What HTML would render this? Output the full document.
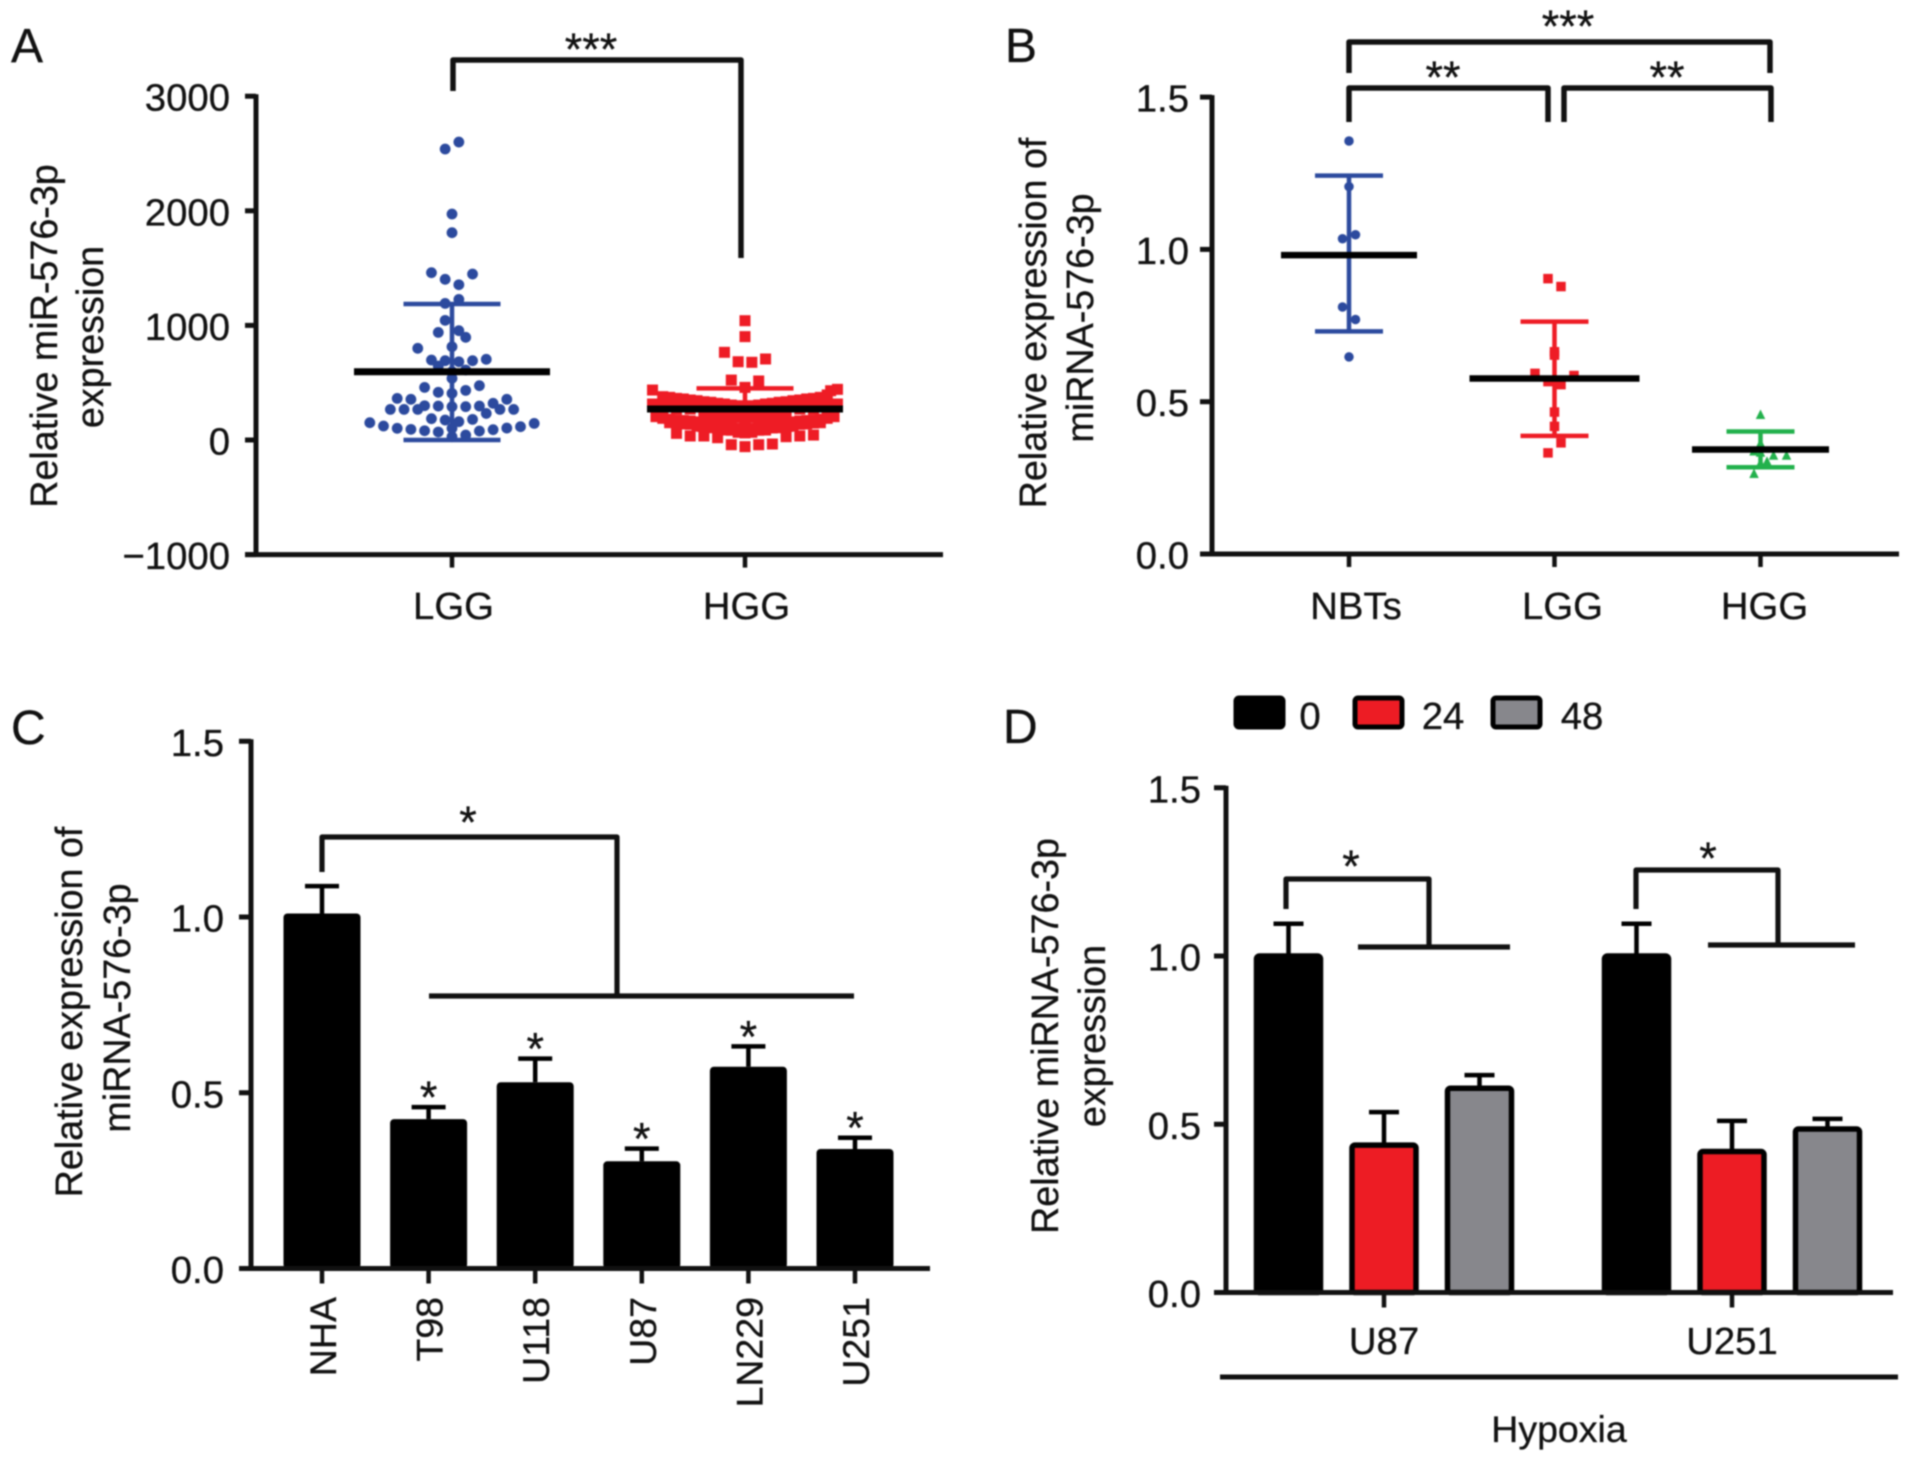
<!DOCTYPE html>
<html>
<head>
<meta charset="utf-8">
<title>miR-576-3p expression panels</title>
<style>
html,body{margin:0;padding:0;background:#fff;}
svg{display:block;filter:blur(0.7px);}
text{font-family:"Liberation Sans",Arial,sans-serif;fill:#111;stroke:#111;stroke-width:0.3px;}
.tl{font-size:37.7px;}
.tk{font-size:38.3px;}
.tkr{font-size:37.5px;}
.pl{font-size:48px;}
.st{font-size:45px;}
.br{fill:none;stroke:#111;stroke-width:5.5;stroke-linejoin:round;}
.br4{fill:none;stroke:#111;stroke-width:5.2;stroke-linejoin:round;}
</style>
</head>
<body>
<svg id="figure" width="1913" height="1462" viewBox="0 0 1913 1462" xmlns="http://www.w3.org/2000/svg">
  <rect width="1913" height="1462" fill="#fff"/>

  <!-- Panel A -->
  <g id="panel-a">
    <text class="pl" x="11" y="62">A</text>
    <text class="tl" text-anchor="middle" transform="translate(57,336) rotate(-90)">Relative miR-576-3p</text>
    <text class="tl" text-anchor="middle" transform="translate(103,337) rotate(-90)">expression</text>
    <path class="br" d="M453 91V60H741V258"/>
    <text class="st" text-anchor="middle" x="591" y="65">***</text>
  </g>

  <!-- Panel B -->
  <g id="panel-b">
    <text class="pl" x="1005" y="62">B</text>
    <text class="tl" text-anchor="middle" transform="translate(1046,323) rotate(-90)">Relative expression of</text>
    <text class="tl" text-anchor="middle" transform="translate(1093,318) rotate(-90)">miRNA-576-3p</text>
    <path class="br" d="M1349 73V42H1770V73"/>
    <path class="br" d="M1349 122V88H1548V122"/>
    <path class="br" d="M1564 122V88H1771V122"/>
    <text class="st" text-anchor="middle" x="1568" y="42">***</text>
    <text class="st" text-anchor="middle" x="1443" y="93">**</text>
    <text class="st" text-anchor="middle" x="1667" y="93">**</text>
  </g>

  <!-- Panel C -->
  <g id="panel-c">
    <text class="pl" x="11" y="744">C</text>
    <text class="tl" text-anchor="middle" transform="translate(82,1012) rotate(-90)">Relative expression of</text>
    <text class="tl" text-anchor="middle" transform="translate(130,1008) rotate(-90)">miRNA-576-3p</text>
    <path class="br4" d="M322 872V837H617V995"/>
    <path class="br4" d="M429 996H854"/>
    <text class="st" text-anchor="middle" x="468" y="838">*</text>
  </g>

  <!-- Panel D -->
  <g id="panel-d">
    <text class="pl" x="1003" y="743">D</text>
    <text class="tl" text-anchor="middle" transform="translate(1058,1036) rotate(-90)">Relative miRNA-576-3p</text>
    <text class="tl" text-anchor="middle" transform="translate(1105,1036) rotate(-90)">expression</text>
    <path class="br4" d="M1286 909V879H1429V947"/>
    <path class="br4" d="M1358 947H1510"/>
    <text class="st" text-anchor="middle" x="1351" y="882">*</text>
    <path class="br4" d="M1636 909V870H1778V945"/>
    <path class="br4" d="M1708 945H1855"/>
    <text class="st" text-anchor="middle" x="1708" y="874">*</text>
    <path d="M1220 1377H1898" fill="none" stroke="#111" stroke-width="5"/>
    <text class="tkr" text-anchor="middle" x="1559" y="1442">Hypoxia</text>
    <g>
      <rect x="1236" y="698" width="47" height="29" rx="3" fill="#000" stroke="#000" stroke-width="5"/>
      <text class="tk" text-anchor="middle" x="1310" y="729">0</text>
      <rect x="1355" y="698" width="47" height="29" rx="3" fill="#ed1c24" stroke="#000" stroke-width="5"/>
      <text class="tk" text-anchor="middle" x="1443" y="729">24</text>
      <rect x="1493" y="698" width="47" height="29" rx="3" fill="#87878c" stroke="#000" stroke-width="5"/>
      <text class="tk" text-anchor="middle" x="1582" y="729">48</text>
    </g>
  </g>
</svg>

<script>
// ---------- Panel A data ----------
const aCategories = ['LGG', 'HGG'];
const aTicks = [3000, 2000, 1000, 0, -1000];
const aLggValues = [2539,2600,1972,1809,1460,1448,1402,1355,1227,1192,1044,939,954,896,814,800,698,692,683,692,704,646,611,596,538,459,474,416,433,407,363,355,355,320,299,296,291,291,296,267,267,267,267,267,232,186,174,160,180,151,122,102,93,81,70,102,78,90,104,116,145,43,29];
const aLggSwarm = [-0.5,0.5,0,0,-1.5,1.5,-0.5,0.5,0.5,-0.5,-0.5,-1,0.5,1,0,-2.5,-1.5,-0.5,0.5,1.5,2.5,-1,1,0,0,-2,2,-1,1,0,-4,-3,4,3,-2,-1,0,1,2,-4.5,-3.5,-2.5,3.5,4.5,2.5,-1.5,-0.5,0.5,1.5,-6,-5,-4,-3,-2,-1,0,2,3,4,5,6,1,0];
const aLggStats = {mean: 596, upper: 1187, lower: 0};
const aHggValues = [1041,902,765,683,678,707,523,515,459,
  436,442,430,314,314,
  378,363,349,334,320,305,291,305,320,334,349,363,393,
  372,358,343,329,314,299,299,314,329,343,358,372,
  348,333,319,304,290,275,275,290,304,319,333,348,
  349,334,320,305,291,276,276,291,305,320,334,349,
  270,270,270,270,270,270,270,270,270,270,270,270,270,
  238,227,204,189,204,227,238,
  232,215,197,197,215,232,
  204,204,
  189,174,166,151,140,122,81,122,140,151,166,174,189,
  181,170,158,145,131,100,100,131,145,158,170,181,
  151,140,122,107,87,67,67,87,107,122,140,151,
  148,137,120,105,85,62,85,105,120,137,148,
  58,35,35,20,-41,-58,-41,-35,29,35,43];
const aHggSwarm = [0,0,-1.5,-0.5,0.5,1.5,-1,1,0,
  -6.75,6.75,6.25,-6.75,6.75,
  -6,-5,-4,-3,-2,-1,0,1,2,3,4,5,6,
  -5.5,-4.5,-3.5,-2.5,-1.5,-0.5,0.5,1.5,2.5,3.5,4.5,5.5,
  -6,-5,-4,-3,-2,-1,1,2,3,4,5,6,
  -5.5,-4.5,-3.5,-2.5,-1.5,-0.5,0.5,1.5,2.5,3.5,4.5,5.5,
  -6,-5,-4,-3,-2,-1,0,1,2,3,4,5,6,
  -3,-2,-1,0,1,2,3,
  -2.5,-1.5,-0.5,0.5,1.5,2.5,
  -6.5,6.5,
  -6,-5,-4,-3,-2,-1,0,1,2,3,4,5,6,
  -5.5,-4.5,-3.5,-2.5,-1.5,-0.5,0.5,1.5,2.5,3.5,4.5,5.5,
  -5.5,-4.5,-3.5,-2.5,-1.5,-0.5,0.5,1.5,2.5,3.5,4.5,5.5,
  -5,-4,-3,-2,-1,0,1,2,3,4,5,
  -5,-4,-3,-2,-1,0,1,2,3,4,5];
const aHggStats = {mean: 270, upper: 450, lower: 90};

// ---------- Panel B data ----------
const bCategories = ['NBTs', 'LGG', 'HGG'];
const bTicks = ['1.5', '1.0', '0.5', '0.0'];
const bNbtValues = [1.356,1.206,1.035,1.048,0.811,0.77,0.647];
const bNbtSwarm = [0,0,-0.5,0.5,-0.5,0.5,0];
const bNbtStats = {mean: 0.981, upper: 1.242, lower: 0.731};
const bLggValues = [0.904,0.878,0.664,0.653,0.593,0.586,0.566,0.556,0.466,0.419,0.365,0.332];
const bLggSwarm = [-0.5,0.5,0,0,-1.5,1.5,-0.5,0.5,0,0,0.5,-0.5];
const bLggStats = {mean: 0.576, upper: 0.763, lower: 0.388};
const bHggValues = [0.459,0.365,0.339,0.335,0.325,0.325,0.3,0.305,0.265];
const bHggSwarm = [0,0,-0.5,0,1,2,0,0.5,-0.5];
const bHggStats = {mean: 0.343, upper: 0.402, lower: 0.285};

// ---------- Panel C data ----------
const cCategories = ['NHA', 'T98', 'U118', 'U87', 'LN229', 'U251'];
const cTicks = ['1.5', '1.0', '0.5', '0.0'];
const cValues = [1.01, 0.425, 0.53, 0.305, 0.574, 0.34];
const cErrors = [0.078, 0.034, 0.067, 0.036, 0.058, 0.032];
const cStars = ['', '*', '*', '*', '*', '*'];

// ---------- Panel D data ----------
const dGroups = ['U87', 'U251'];
const dSeries = ['0', '24', '48'];
const dTicks = ['1.5', '1.0', '0.5', '0.0'];
const dValues0 = [1.0, 1.0];
const dValues24 = [0.438, 0.419];
const dValues48 = [0.607, 0.486];
const dErrors0 = [0.096, 0.096];
const dErrors24 = [0.098, 0.091];
const dErrors48 = [0.039, 0.03];

// ---------- helpers ----------
const SVGNS = 'http://www.w3.org/2000/svg';
function mk(parent, tag, attrs, name, txt) {
  const el = document.createElementNS(SVGNS, tag);
  for (const k in attrs) el.setAttribute(k, attrs[k]);
  
  
  if (txt !== undefined) el.textContent = txt;
  parent.appendChild(el);
  return el;
}
function linear(d0, d1, r0, r1) {
  return function (v) { return r0 + (v - d0) * (r1 - r0) / (d1 - d0); };
}
function seg(parent, x1, y1, x2, y2, color, w, name) {
  return mk(parent, 'line', {x1: x1, y1: y1, x2: x2, y2: y2, stroke: color, 'stroke-width': w}, name);
}
function yAxis(parent, prefix, axisX, y, top, bottom, ticks, tickLeft, labelX, dy) {
  seg(parent, axisX, y(top) - 2, axisX, y(bottom) + 2, '#111', 5, prefix + '-y-axis');
  ticks.forEach(function (t) {
    const v = parseFloat(t);
    seg(parent, tickLeft, y(v), axisX, y(v), '#111', 5, prefix + '-y-tick');
    const label = (typeof t === 'number' && t < 0) ? '\u2212' + Math.abs(t) : String(t);
    mk(parent, 'text', {class: 'tk', x: labelX, y: y(v) + dy, 'text-anchor': 'end'}, prefix + '-y-tick-label', label);
  });
}
function swarm(parent, prefix, cx, unit, y, values, slots, shape, color, size) {
  values.forEach(function (v, i) {
    const px = cx + slots[i] * unit, py = y(v);
    if (shape === 'circle') {
      mk(parent, 'circle', {cx: px, cy: py, r: size / 2, fill: color}, prefix + '-point');
    } else if (shape === 'square') {
      mk(parent, 'rect', {x: px - size / 2, y: py - size / 2, width: size, height: size, fill: color}, prefix + '-point');
    } else {
      const h = size / 2;
      mk(parent, 'polygon', {points: px + ',' + (py - h) + ' ' + (px + h) + ',' + (py + h) + ' ' + (px - h) + ',' + (py + h), fill: color}, prefix + '-point');
    }
  });
}
function stats(parent, prefix, cx, y, s, color, capW, meanW, meanStroke) {
  seg(parent, cx, y(s.upper), cx, y(s.lower), color, 4.5, prefix + '-error-stem');
  seg(parent, cx - capW / 2, y(s.upper), cx + capW / 2, y(s.upper), color, 4.5, prefix + '-error-cap-upper');
  seg(parent, cx - capW / 2, y(s.lower), cx + capW / 2, y(s.lower), color, 4.5, prefix + '-error-cap-lower');
  seg(parent, cx - meanW / 2, y(s.mean), cx + meanW / 2, y(s.mean), '#000', meanStroke, prefix + '-mean-line');
}

// ---------- Panel A ----------
(function () {
  const g = document.getElementById('panel-a');
  const y = linear(0, 1000, 440, 325.4);
  const xCenters = [452, 745];
  yAxis(g, 'panel-a', 256, y, 3000, -1000, aTicks, 245, 230, 14.5);
  seg(g, 245, y(-1000), 943, y(-1000), '#111', 5, 'panel-a-x-axis');
  aCategories.forEach(function (c, i) {
    seg(g, xCenters[i], y(-1000), xCenters[i], y(-1000) + 13, '#111', 4.5, 'panel-a-x-tick');
    mk(g, 'text', {class: 'tk', x: xCenters[i] + 1.5, y: 619, 'text-anchor': 'middle'}, 'panel-a-x-tick-label', c);
  });
  swarm(g, 'lgg', xCenters[0], 13.7, y, aLggValues, aLggSwarm, 'circle', '#2c4a9e', 10.8);
  swarm(g, 'hgg', xCenters[1], 13.7, y, aHggValues, aHggSwarm, 'square', '#ee1c25', 11);
  stats(g, 'lgg', xCenters[0], y, aLggStats, '#2c4a9e', 97, 196, 7);
  stats(g, 'hgg', xCenters[1], y, aHggStats, '#ee1c25', 97, 196, 7);
})();

// ---------- Panel B ----------
(function () {
  const g = document.getElementById('panel-b');
  const y = linear(0, 1, 554, 249.4);
  const xCenters = [1349, 1554.5, 1760.5];
  yAxis(g, 'panel-b', 1212, y, 1.5, 0, bTicks, 1200, 1189, 14.5);
  seg(g, 1200, y(0), 1899, y(0), '#111', 5, 'panel-b-x-axis');
  const labelShift = [7, 8, 4];
  bCategories.forEach(function (c, i) {
    seg(g, xCenters[i], y(0), xCenters[i], y(0) + 13, '#111', 4.5, 'panel-b-x-tick');
    mk(g, 'text', {class: 'tk', x: xCenters[i] + labelShift[i], y: 619, 'text-anchor': 'middle'}, 'panel-b-x-tick-label', c);
  });
  swarm(g, 'nbts', xCenters[0], 13, y, bNbtValues, bNbtSwarm, 'circle', '#2c4a9e', 9.5);
  swarm(g, 'b-lgg', xCenters[1], 13, y, bLggValues, bLggSwarm, 'square', '#ee1c25', 9.5);
  swarm(g, 'b-hgg', xCenters[2], 13, y, bHggValues, bHggSwarm, 'triangle', '#22b14c', 9.5);
  stats(g, 'nbts', xCenters[0], y, bNbtStats, '#2c4a9e', 68, 136, 6.5);
  stats(g, 'b-lgg', xCenters[1], y, bLggStats, '#ee1c25', 68, 170, 6.5);
  stats(g, 'b-hgg', xCenters[2], y, bHggStats, '#22b14c', 68, 137, 6.5);
})();

// ---------- Panel C ----------
(function () {
  const g = document.getElementById('panel-c');
  const y = linear(0, 1, 1268.5, 917);
  const x0 = 322, step = 106.6, barW = 77;
  yAxis(g, 'panel-c', 251, y, 1.5, 0, cTicks, 239, 224, 14.5);
  cCategories.forEach(function (c, i) {
    const cx = x0 + i * step;
    const top = y(cValues[i] + cErrors[i]);
    seg(g, cx, top, cx, y(cValues[i]), '#000', 4.5, 'bar-error-stem-' + c);
    seg(g, cx - 17, top, cx + 17, top, '#000', 4.5, 'bar-error-cap-' + c);
    mk(g, 'rect', {x: cx - barW / 2, y: y(cValues[i]), width: barW, height: y(0) - y(cValues[i]), rx: 4, fill: '#000'}, 'bar-' + c);
    seg(g, cx, y(0), cx, y(0) + 15, '#111', 4.5, 'panel-c-x-tick');
    mk(g, 'text', {class: 'tkr', 'text-anchor': 'end', transform: 'translate(' + (cx + 14) + ',1297) rotate(-90)'}, 'panel-c-x-tick-label', c);
    if (cStars[i]) {
      mk(g, 'text', {class: 'st', x: cx, y: top + 6, 'text-anchor': 'middle'}, 'bar-star-' + c, cStars[i]);
    }
  });
  seg(g, 239, y(0), 930, y(0), '#111', 5, 'panel-c-x-axis');
})();

// ---------- Panel D ----------
(function () {
  const g = document.getElementById('panel-d');
  const y = linear(0, 1, 1292.5, 956);
  const groupCenters = [1384, 1732];
  const offset = 95.5, barW = 64;
  const seriesValues = [dValues0, dValues24, dValues48];
  const seriesErrors = [dErrors0, dErrors24, dErrors48];
  const seriesFill = ['#000', '#ed1c24', '#87878c'];
  yAxis(g, 'panel-d', 1226, y, 1.5, 0, dTicks, 1214, 1201, 14.5);
  dGroups.forEach(function (grp, gi) {
    dSeries.forEach(function (s, si) {
      const cx = groupCenters[gi] + (si - 1) * offset;
      const v = seriesValues[si][gi];
      const top = y(v + seriesErrors[si][gi]);
      seg(g, cx, top, cx, y(v), '#000', 4.5, 'bar-error-stem-' + grp + '-' + s);
      seg(g, cx - 15, top, cx + 15, top, '#000', 4.5, 'bar-error-cap-' + grp + '-' + s);
      mk(g, 'rect', {x: cx - barW / 2, y: y(v), width: barW, height: y(0) - y(v), rx: 3, fill: seriesFill[si], stroke: '#000', 'stroke-width': 5.5}, 'bar-' + grp + '-' + s);
    });
    seg(g, groupCenters[gi], y(0), groupCenters[gi], y(0) + 15, '#111', 4.5, 'panel-d-x-tick');
    mk(g, 'text', {class: 'tk', x: groupCenters[gi], y: 1354, 'text-anchor': 'middle'}, 'panel-d-x-tick-label', grp);
  });
  seg(g, 1214, y(0), 1893, y(0), '#111', 5, 'panel-d-x-axis');
})();
</script>
</body>
</html>
